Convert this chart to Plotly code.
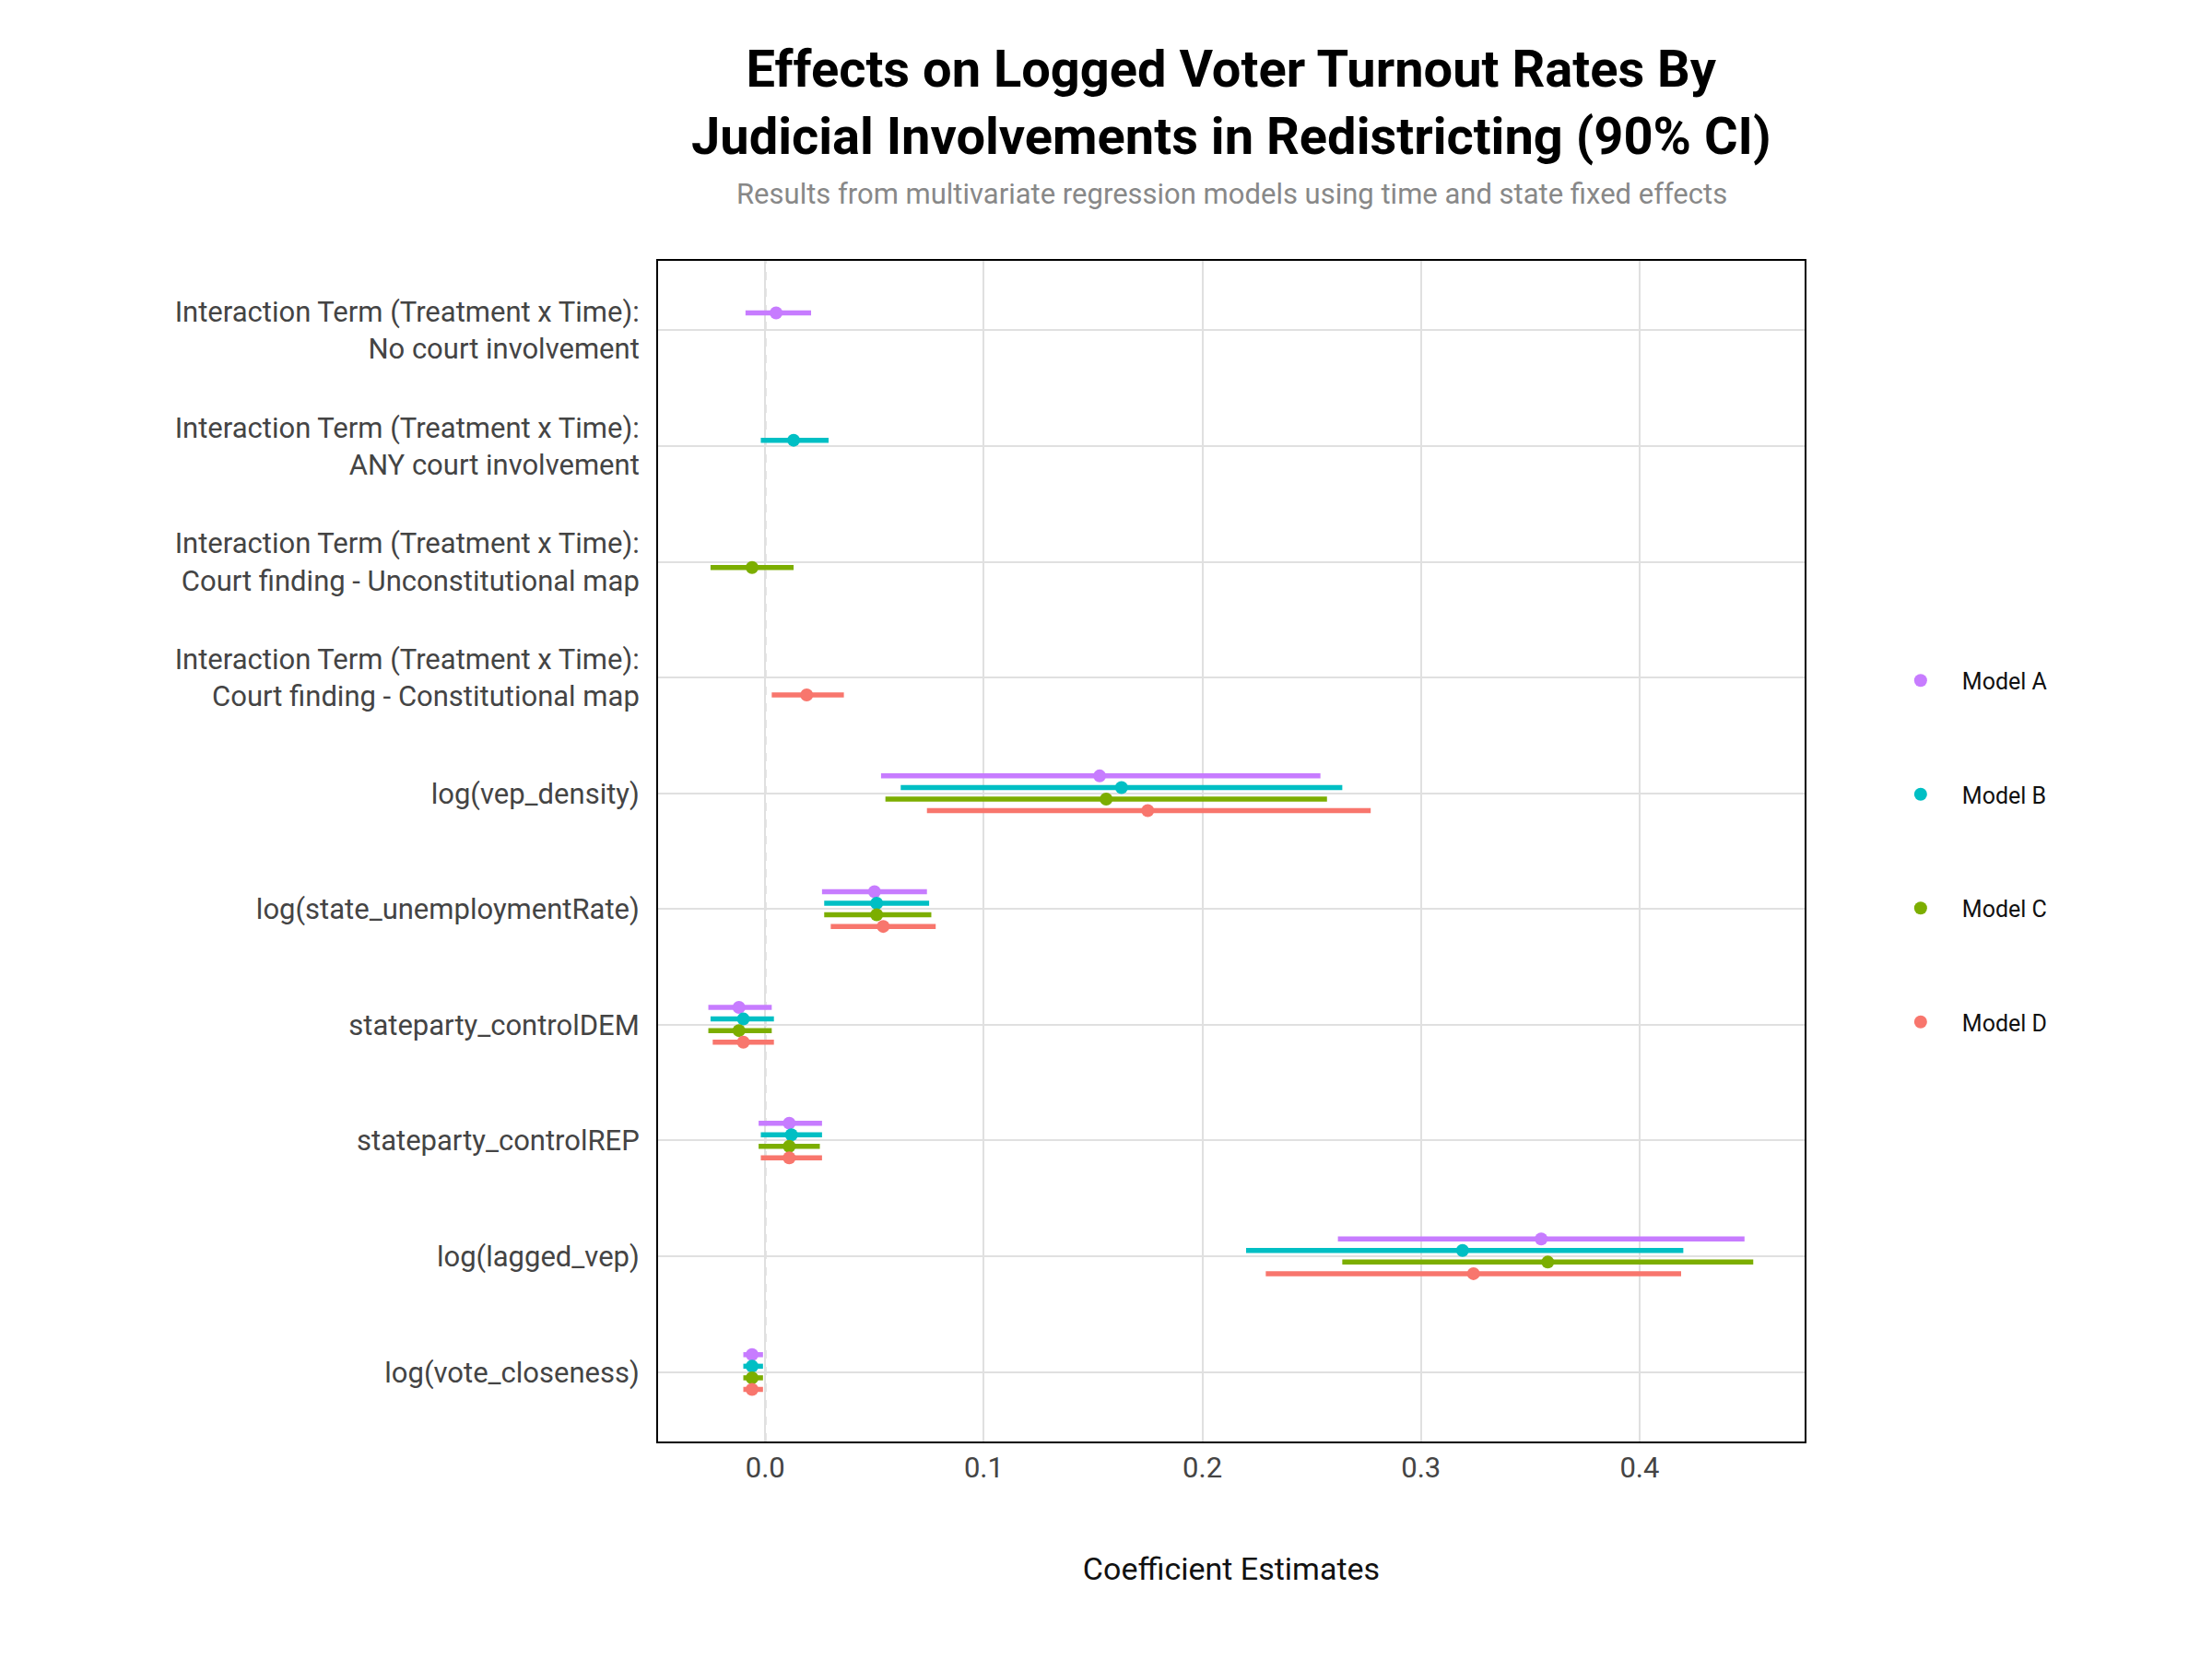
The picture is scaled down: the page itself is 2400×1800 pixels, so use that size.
import plotly.graph_objects as go

rows = ["Interaction Term (Treatment x Time):<br>No court involvement",
        "Interaction Term (Treatment x Time):<br>ANY court involvement",
        "Interaction Term (Treatment x Time):<br>Court finding - Unconstitutional map",
        "Interaction Term (Treatment x Time):<br>Court finding - Constitutional map",
        "log(vep_density)", "log(state_unemploymentRate)", "stateparty_controlDEM",
        "stateparty_controlREP", "log(lagged_vep)", "log(vote_closeness)"]

models = ["Model A", "Model B", "Model C", "Model D"]
colors = ["#C77CFF", "#00BFC4", "#7CAE00", "#F8766D"]
offsets = [-0.15, -0.05, 0.05, 0.15]

# per model: row index (1-based), estimate, low, high
model_a_rows = [1, 5, 6, 7, 8, 9, 10]
model_a_est = [0.005, 0.153, 0.050, -0.012, 0.011, 0.355, -0.006]
model_a_lo = [-0.009, 0.053, 0.026, -0.026, -0.003, 0.262, -0.010]
model_a_hi = [0.021, 0.254, 0.074, 0.003, 0.026, 0.448, -0.001]

model_b_rows = [2, 5, 6, 7, 8, 9, 10]
model_b_est = [0.013, 0.163, 0.051, -0.010, 0.012, 0.319, -0.006]
model_b_lo = [-0.002, 0.062, 0.027, -0.025, -0.002, 0.220, -0.010]
model_b_hi = [0.029, 0.264, 0.075, 0.004, 0.026, 0.420, -0.001]

model_c_rows = [3, 5, 6, 7, 8, 9, 10]
model_c_est = [-0.006, 0.156, 0.051, -0.012, 0.011, 0.358, -0.006]
model_c_lo = [-0.025, 0.055, 0.027, -0.026, -0.003, 0.264, -0.010]
model_c_hi = [0.013, 0.257, 0.076, 0.003, 0.025, 0.452, -0.001]

model_d_rows = [4, 5, 6, 7, 8, 9, 10]
model_d_est = [0.019, 0.175, 0.054, -0.010, 0.011, 0.324, -0.006]
model_d_lo = [0.003, 0.074, 0.030, -0.024, -0.002, 0.229, -0.010]
model_d_hi = [0.036, 0.277, 0.078, 0.004, 0.026, 0.419, -0.001]

data = [(model_a_rows, model_a_est, model_a_lo, model_a_hi),
        (model_b_rows, model_b_est, model_b_lo, model_b_hi),
        (model_c_rows, model_c_est, model_c_lo, model_c_hi),
        (model_d_rows, model_d_est, model_d_lo, model_d_hi)]

fig = go.Figure()
for name, col, off, (r, e, lo, hi) in zip(models, colors, offsets, data):
    fig.add_trace(go.Scatter(
        x=e, y=[ri + off for ri in r], mode="markers", name=name,
        marker=dict(color=col, size=14),
        error_x=dict(type="data", symmetric=False,
                     array=[h - v for h, v in zip(hi, e)],
                     arrayminus=[v - l for v, l in zip(e, lo)],
                     color=col, thickness=5.5, width=0),
        legendgroup=name))

fig.add_shape(type="line", x0=0, x1=0, y0=0, y1=1, yref="paper",
              line=dict(color="#888888", width=2, dash="dash"), layer="below")

fig.update_layout(
    width=2400, height=1800, plot_bgcolor="white", paper_bgcolor="white",
    margin=dict(l=706, r=450, t=275, b=244),
    font=dict(family="Roboto", color="#444444"),
    showlegend=True,
    legend=dict(x=1.065, y=0.5, yanchor="middle", xanchor="left",
                font=dict(size=25, color="#111111"), tracegroupgap=88,
                itemwidth=80),
    xaxis=dict(range=[-0.049, 0.4755], tickvals=[0, 0.1, 0.2, 0.3, 0.4],
               ticktext=["0.0", "0.1", "0.2", "0.3", "0.4"],
               tickfont=dict(size=31, color="#444444"),
               showgrid=True, gridcolor="#E0E0E0", gridwidth=1.5, zeroline=False,
               showline=True, linecolor="black", linewidth=2, mirror=True,
               ticks="", title=dict(text="Coefficient Estimates", standoff=80,
                                    font=dict(size=34, color="#111111"))),
    yaxis=dict(range=[10.6, 0.4], tickvals=list(range(1, 11)), ticktext=rows,
               tickfont=dict(size=31, color="#444444"),
               showgrid=True, gridcolor="#E0E0E0", gridwidth=1.5, zeroline=False,
               showline=True, linecolor="black", linewidth=2, mirror=True,
               ticks="", ticklabelstandoff=12),
    annotations=[
        dict(text="<b>Effects on Logged Voter Turnout Rates By<br>Judicial Involvements in Redistricting (90% CI)</b>",
             x=0.5, xref="paper", y=1.0, yref="paper", yshift=100, yanchor="bottom",
             showarrow=False, font=dict(size=56, color="black", family="Roboto"),
             xanchor="center"),
        dict(text="Results from multivariate regression models using time and state fixed effects",
             x=0.5, xref="paper", y=1.0, yref="paper", yshift=52, showarrow=False,
             font=dict(size=31, color="#888888"), xanchor="center", yanchor="bottom"),
    ],
)
fig.write_html("out.html")
